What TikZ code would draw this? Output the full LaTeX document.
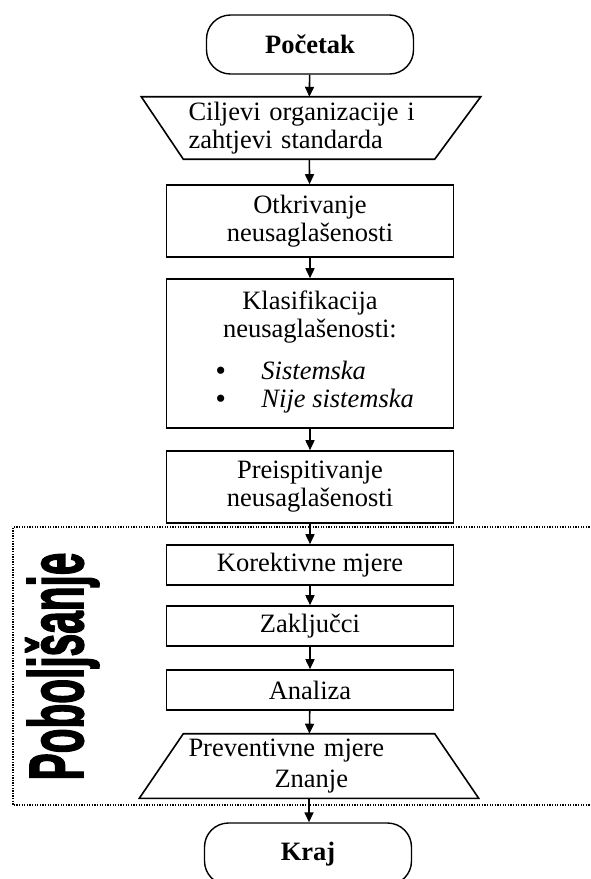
\documentclass[tikz,border=0pt]{standalone}
\usepackage{fontspec}
\setmainfont{Liberation Serif}
\newfontfamily\headfont[BoldFeatures={FakeBold=2.5}]{Liberation Sans}
\usetikzlibrary{arrows.meta}
\begin{document}
\begin{tikzpicture}[x=1pt,y=-1pt,
   font=\fontsize{26.5}{28}\selectfont,
   term/.style={draw,line width=1.4pt,rounded corners=24pt,
     minimum width=207pt,minimum height=59pt,
     font=\fontsize{26.5}{28}\selectfont\bfseries},
   box/.style={draw,line width=1.6pt,minimum width=287pt,align=center,inner sep=0pt},
   flat/.style={inner sep=5pt,text width=241pt,align=left},
   arr/.style={-{Triangle[length=10pt,width=9pt]},line width=1.6pt},
   frame/.style={line width=1.3pt,dash pattern=on 1.3pt off 1.3pt}]
   \useasboundingbox (0,0) rectangle (590,879);
   % flow
   \node[term] (start) at (310,44.5) {Početak};
   \node[flat,minimum height=60pt] (cilj) at (309,128)
     {Ciljevi organizacije i\\zahtjevi standarda};
   \draw[line width=1.6pt] ([xshift=-42pt]cilj.north west) -- ([xshift=46pt]cilj.north east)
     -- (cilj.south east) -- (cilj.south west) -- cycle;
   \node[box,minimum height=72pt] (otkr) at (310,221) {Otkrivanje\\neusaglašenosti};
   \node[box,minimum height=149pt] (klas) at (310,353.5)
     {Klasifikacija\\neusaglašenosti:\\[14pt]%
      \hspace*{10pt}\begin{tabular}[t]{@{}l@{\hspace{36pt}}l@{}}
        \textbf{\textbullet} & \textit{Sistemska}\\
        \textbf{\textbullet} & \textit{Nije sistemska}
      \end{tabular}};
   \node[box,minimum height=72pt] (preisp) at (310,487) {Preispitivanje\\neusaglašenosti};
   \node[box,minimum height=40pt] (korek) at (310,565) {Korektivne mjere};
   \node[box,minimum height=40pt] (zaklj) at (310,626) {Zaključci};
   \node[box,minimum height=40pt] (anal) at (310,690) {Analiza};
   \node[flat,minimum height=64pt] (prev) at (309,766)
     {Preventivne mjere\\[3pt]\hspace*{86pt}Znanje};
   \draw[line width=1.6pt] (prev.north west) -- (prev.north east)
     -- ([xshift=44pt]prev.south east) -- ([xshift=-44pt]prev.south west) -- cycle;
   \node[term,minimum height=62pt] (kraj) at (308,854) {Kraj};
   % arrows
   \draw[arr] (start) -- (cilj);
   \draw[arr] (cilj) -- (otkr);
   \draw[arr] (otkr) -- (klas);
   \draw[arr] (klas) -- (preisp);
   \draw[arr] (preisp) -- (korek);
   \draw[arr] (korek) -- (zaklj);
   \draw[arr] (zaklj) -- (anal);
   \draw[arr] (anal) -- (prev);
   \draw[arr] (prev.south) -- (kraj.north -| prev.south);
   % improvement frame
   \draw[frame] (600,527) -- (13,527) -- (13,805) -- (600,805);
   \node[rotate=90,anchor=base,inner sep=0pt,
     font=\headfont\bfseries\fontsize{77}{80}\selectfont] (pobo) at (83,666.5)
     {\scalebox{0.527}[1]{Poboljšanje}};
\end{tikzpicture}
\end{document}
